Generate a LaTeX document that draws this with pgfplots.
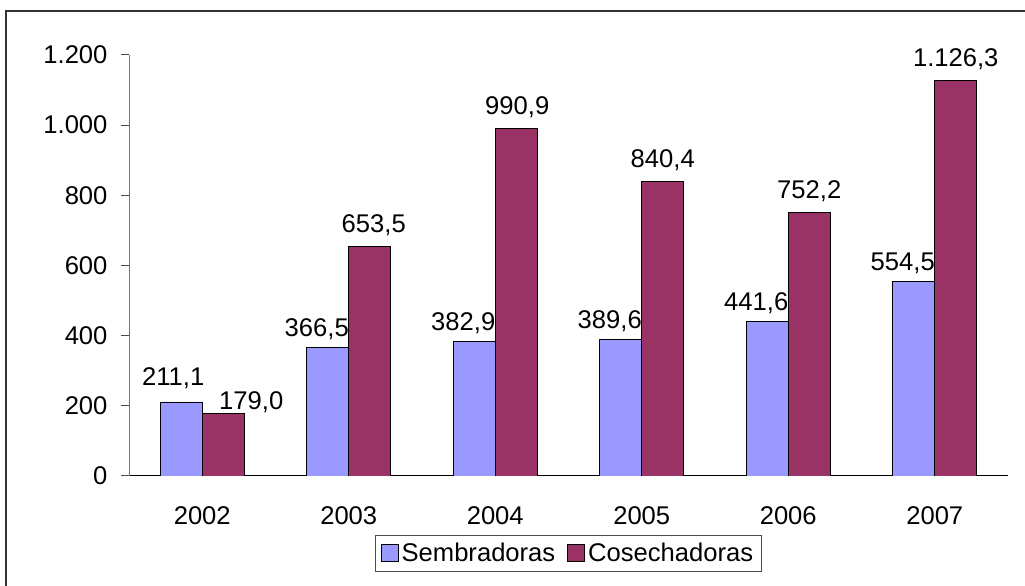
\documentclass[border=0pt]{standalone}
\usepackage{pgfplots}
\usepackage{pgfplotstable}
\pgfplotsset{compat=1.18}
\usepackage{fontspec}
\setmainfont{Liberation Sans}
\definecolor{semb}{RGB}{153,153,255}
\definecolor{cose}{RGB}{153,51,102}
\newcommand{\chartfont}{\fontsize{25.6bp}{30bp}\selectfont}
% x = category, y = value, dx/dy = label offset (bp)
\pgfplotstableread{
x y dx dy
0 211.1 -8 9
1 366.5 -11 4
2 382.9 -11 4
3 389.6 -11 4
4 441.6 -11 4
5 554.5 -11 4
}\sembtable
\pgfplotstableread{
x y dx dy
0 179.0 28 -3
1 653.5 4 7
2 990.9 1 7
3 840.4 0 7
4 752.2 0 7
5 1126.3 0 7
}\cosetable
\begin{document}
\begin{tikzpicture}
\path[use as bounding box] (0,0) rectangle (1025bp,586bp);
% outer frame (only left and top visible)
\draw[line width=1.5bp, black!80] (6bp,0) -- (6bp,575bp) -- (1025bp,575bp);
\begin{axis}[
    at={(129bp,110bp)}, anchor=south west,
    scale only axis, width=879bp, height=421bp,
    ybar=0pt, bar width=42bp,
    xmin=-0.5, xmax=5.5, ymin=0, ymax=1200,
    axis x line*=bottom, axis y line*=left,
    x axis line style={black, line width=1bp, -},
    y axis line style={black!55, line width=1bp, -},
    xtick={0,1,2,3,4,5},
    xticklabels={2002,2003,2004,2005,2006,2007},
    extra x ticks={-0.5,0.5,1.5,2.5,3.5,4.5,5.5},
    extra x tick labels={},
    extra x tick style={major tick length=9bp, tick style={black!70, line width=1bp}},
    ytick={0,200,...,1200},
    tick align=outside,
    x tick style={draw=none},
    y tick style={black!70, line width=1bp},
    major tick length=8bp,
    tick label style={font=\chartfont},
    xticklabel style={yshift=-19bp},
    yticklabel style={xshift=-10bp},
    /pgf/number format/assume math mode=true,
    /pgf/number format/1000 sep={.},
    visualization depends on={\thisrow{dx} \as \labdx},
    visualization depends on={\thisrow{dy} \as \labdy},
    nodes near coords,
    nodes near coords style={font=\chartfont, xshift=\labdx bp, yshift=\labdy bp,
        /pgf/number format/.cd, fixed, fixed zerofill, precision=1, use comma, 1000 sep={.}, assume math mode=true},
    legend style={at={(0.5,-0.183)}, anchor=center, legend columns=2,
        draw=black!70, line width=1bp, font=\chartfont,
        inner xsep=5bp, inner ysep=5bp,
        nodes={inner xsep=3bp, inner ysep=3bp},
        /tikz/every even column/.append style={column sep=9bp}},
    legend image code/.code={\draw[#1, line width=0.8bp] (0bp,-8bp) rectangle (17bp,9bp);},
]
\addplot[fill=semb, draw=black, line width=0.8bp] table[x=x, y=y] {\sembtable};
\addplot[fill=cose, draw=black, line width=0.8bp] table[x=x, y=y] {\cosetable};
\legend{Sembradoras, Cosechadoras}
\end{axis}
\end{tikzpicture}
\end{document}
